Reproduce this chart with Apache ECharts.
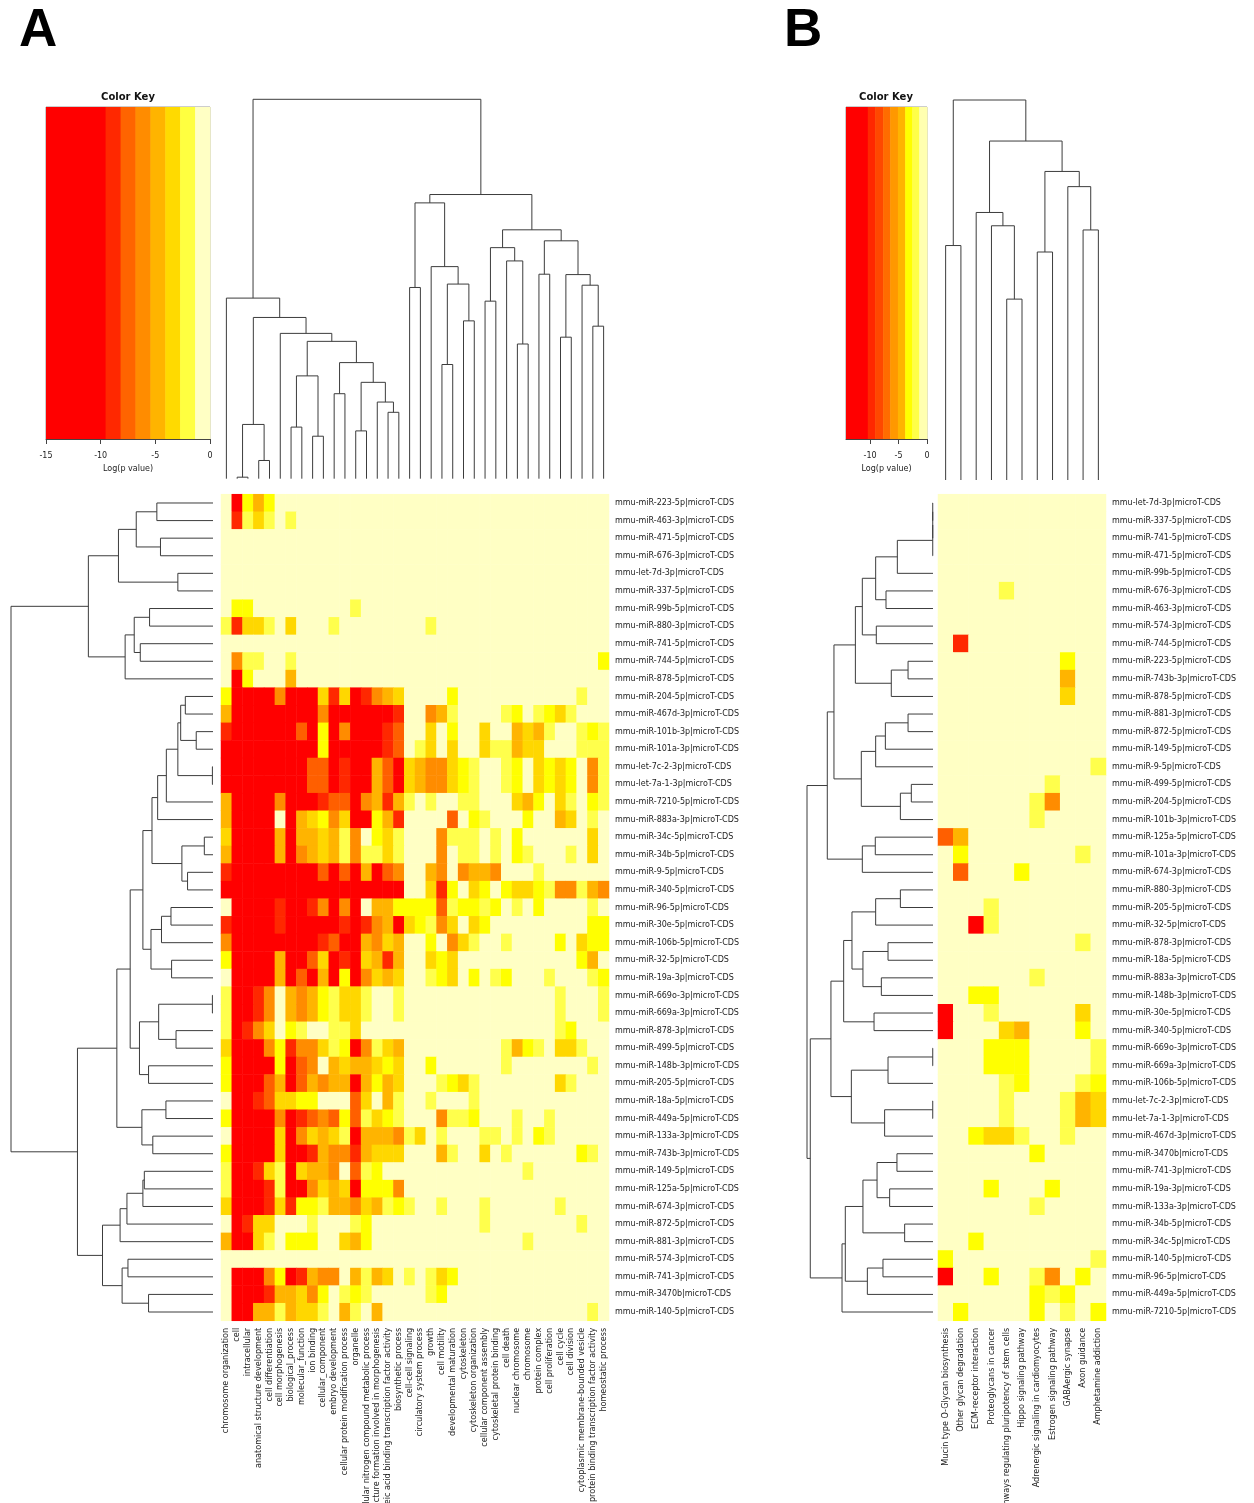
<!DOCTYPE html>
<html>
<head>
<meta charset="utf-8">
<script src="https://cdn.jsdelivr.net/npm/echarts@6/dist/echarts.min.js"></script>
<style>
html,body{margin:0;padding:0;background:#fff;}
#chart{width:1254px;height:1503px;}
</style>
</head>
<body>
<div id="chart"></div>
<script>
// ---------- Panel A: GO term enrichment ----------
const goTerms = [
  'chromosome organization','cell','intracellular','anatomical structure development','cell differentiation',
  'cell morphogenesis','biological_process','molecular_function','ion binding','cellular_component',
  'embryo development','cellular protein modification process','organelle',
  'cellular nitrogen compound metabolic process','anatomical structure formation involved in morphogenesis',
  'nucleic acid binding transcription factor activity','biosynthetic process','cell-cell signaling',
  'circulatory system process','growth','cell motility','developmental maturation','cytoskeleton',
  'cytoskeleton organization','cellular component assembly','cytoskeletal protein binding','cell death',
  'nuclear chromosome','chromosome','protein complex','cell proliferation','cell cycle','cell division',
  'cytoplasmic membrane-bounded vesicle','protein binding transcription factor activity','homeostatic process'
];
const goMirnas = [
  'mmu-miR-223-5p|microT-CDS','mmu-miR-463-3p|microT-CDS','mmu-miR-471-5p|microT-CDS','mmu-miR-676-3p|microT-CDS',
  'mmu-let-7d-3p|microT-CDS','mmu-miR-337-5p|microT-CDS','mmu-miR-99b-5p|microT-CDS','mmu-miR-880-3p|microT-CDS',
  'mmu-miR-741-5p|microT-CDS','mmu-miR-744-5p|microT-CDS','mmu-miR-878-5p|microT-CDS','mmu-miR-204-5p|microT-CDS',
  'mmu-miR-467d-3p|microT-CDS','mmu-miR-101b-3p|microT-CDS','mmu-miR-101a-3p|microT-CDS','mmu-let-7c-2-3p|microT-CDS',
  'mmu-let-7a-1-3p|microT-CDS','mmu-miR-7210-5p|microT-CDS','mmu-miR-883a-3p|microT-CDS','mmu-miR-34c-5p|microT-CDS',
  'mmu-miR-34b-5p|microT-CDS','mmu-miR-9-5p|microT-CDS','mmu-miR-340-5p|microT-CDS','mmu-miR-96-5p|microT-CDS',
  'mmu-miR-30e-5p|microT-CDS','mmu-miR-106b-5p|microT-CDS','mmu-miR-32-5p|microT-CDS','mmu-miR-19a-3p|microT-CDS',
  'mmu-miR-669o-3p|microT-CDS','mmu-miR-669a-3p|microT-CDS','mmu-miR-878-3p|microT-CDS','mmu-miR-499-5p|microT-CDS',
  'mmu-miR-148b-3p|microT-CDS','mmu-miR-205-5p|microT-CDS','mmu-miR-18a-5p|microT-CDS','mmu-miR-449a-5p|microT-CDS',
  'mmu-miR-133a-3p|microT-CDS','mmu-miR-743b-3p|microT-CDS','mmu-miR-149-5p|microT-CDS','mmu-miR-125a-5p|microT-CDS',
  'mmu-miR-674-3p|microT-CDS','mmu-miR-872-5p|microT-CDS','mmu-miR-881-3p|microT-CDS','mmu-miR-574-3p|microT-CDS',
  'mmu-miR-741-3p|microT-CDS','mmu-miR-3470b|microT-CDS','mmu-miR-140-5p|microT-CDS'
];
// one row per miRNA, one level code per GO term (spaces only group columns by six)
const goLevels = [
  '.RYaY. ...... ...... ...... ...... ......',
  '.rygy. y..... ...... ...... ...... ......',
  '...... ...... ...... ...... ...... ......',
  '...... ...... ...... ...... ...... ......',
  '...... ...... ...... ...... ...... ......',
  '...... ...... ...... ...... ...... ......',
  '.YY... ...... y..... ...... ...... ......',
  'yrggy. g...y. ...... .y.... ...... ......',
  '...... ...... ...... ...... ...... ......',
  '.oyy.. y..... ...... ...... ...... .....Y',
  '.RY... a..... ...... ...... ...... ......',
  'YRRRRo RRRgrg Rroag. ...Y.. ...... ...y..',
  'aRRRRR RRRoRR RRRRr. .oay.. ..yY.y Ygy...',
  'rRRRRR RdRYRo RRRrd. .g.Y.. g..aga y..yYy',
  'RRRRRR RRRYRR RRRrd. yg.g.. gyyagg ...yyy',
  'RRRRRR RRddRr RRadRg aoogYy ..yY.g YgY.oy',
  'RRRRRR RRddRr RRadRg aoogYy ..yY.g YgY.oy',
  'aRRRRo RRRrdd Roaray .y..yy ...gaY .gy.Yy',
  'aRRRR. RagYog RRYar. ...d.Y y...Y. .ag.y.',
  'gRRRRa Raagay o.Ygy. ..oyyy .y.Y.. ....g.',
  'aRRRRa Roagay oyygy. ..o.yy .y.Yy. ..y.g.',
  'rRRRRR RRRdRd RaRdo. .ao.oa ao...y ......',
  'RRRRRR RRRRRR RRRRR. .grY.g Y.YggY yooyao',
  '.RRRRr RRroRo R.aaYY YYdyYY yY.y.Y ....y.',
  'rRRRRr RRRRRr RroaRg Yyog.g Y..... ....YY',
  'oRRRRR RRRrdR Raoga. .Y.ogy ..y... .Y.gYY',
  'YRRRRa RRdgRr Rgara. .gYg.. ...... ...Ya.',
  '.RRRRa RdRaRY Rogag. .yYg.Y .yY... y...yY',
  'yRRro. aoaYyg gy..y. ...... ...... .y...y',
  'yRRro. aoaYyg gy..y. ...... ...... .y...y',
  'yRrog. Yy..yy g..... ...... ...... .yY...',
  'gRRRoY roogyY Royga. ...... ..yaYy .ggy..',
  'YRRRRY Rdo.ag aagYg. .Y.... ..y... ....y.',
  'YRRRda Rdaoaa RaYag. ..yYgy ...... .gy...',
  '.RRrdg gYY... dg.ay. .y...y ...... ......',
  'YRRRRo RrdodY dygYy. ..oyyY ...y.. y.....',
  '.RRRRg Rogagy Raaaoy g.y... yy.y.Y y.....',
  'YRRRRg RRraoo raggg. ..ay.. g.y... ...Yy.',
  'yRRrgy Rgaao. dyY... ...... ....y. ......',
  'yRRRry RRogag RYYYo. ...... ...... ......',
  'gRRRrg rYYyaa ogayYy ..y... y..... .y....',
  '.Rrgg. ..y... yY.... ...... y..... ...y..',
  'aRRgy. YYY..g aY.... ...... ....y. ......',
  '...... ...... ...... ...... ...... ......',
  '.RRRoY Rraoo. ayag.y .ygY.. ...... ......',
  '.RRRra agoY.y Yy.... .yY... ...... ......',
  '.RRaay aggy.a y.a... ...... ...... ....y.'
];

// ---------- Panel B: KEGG pathway enrichment ----------
const keggPathways = [
  'Mucin type O-Glycan biosynthesis','Other glycan degradation','ECM-receptor interaction',
  'Proteoglycans in cancer','Signaling pathways regulating pluripotency of stem cells',
  'Hippo signaling pathway','Adrenergic signaling in cardiomyocytes','Estrogen signaling pathway',
  'GABAergic synapse','Axon guidance','Amphetamine addiction'
];
const keggMirnas = [
  'mmu-let-7d-3p|microT-CDS','mmu-miR-337-5p|microT-CDS','mmu-miR-741-5p|microT-CDS','mmu-miR-471-5p|microT-CDS',
  'mmu-miR-99b-5p|microT-CDS','mmu-miR-676-3p|microT-CDS','mmu-miR-463-3p|microT-CDS','mmu-miR-574-3p|microT-CDS',
  'mmu-miR-744-5p|microT-CDS','mmu-miR-223-5p|microT-CDS','mmu-miR-743b-3p|microT-CDS','mmu-miR-878-5p|microT-CDS',
  'mmu-miR-881-3p|microT-CDS','mmu-miR-872-5p|microT-CDS','mmu-miR-149-5p|microT-CDS','mmu-miR-9-5p|microT-CDS',
  'mmu-miR-499-5p|microT-CDS','mmu-miR-204-5p|microT-CDS','mmu-miR-101b-3p|microT-CDS','mmu-miR-125a-5p|microT-CDS',
  'mmu-miR-101a-3p|microT-CDS','mmu-miR-674-3p|microT-CDS','mmu-miR-880-3p|microT-CDS','mmu-miR-205-5p|microT-CDS',
  'mmu-miR-32-5p|microT-CDS','mmu-miR-878-3p|microT-CDS','mmu-miR-18a-5p|microT-CDS','mmu-miR-883a-3p|microT-CDS',
  'mmu-miR-148b-3p|microT-CDS','mmu-miR-30e-5p|microT-CDS','mmu-miR-340-5p|microT-CDS','mmu-miR-669o-3p|microT-CDS',
  'mmu-miR-669a-3p|microT-CDS','mmu-miR-106b-5p|microT-CDS','mmu-let-7c-2-3p|microT-CDS','mmu-let-7a-1-3p|microT-CDS',
  'mmu-miR-467d-3p|microT-CDS','mmu-miR-3470b|microT-CDS','mmu-miR-741-3p|microT-CDS','mmu-miR-19a-3p|microT-CDS',
  'mmu-miR-133a-3p|microT-CDS','mmu-miR-34b-5p|microT-CDS','mmu-miR-34c-5p|microT-CDS','mmu-miR-140-5p|microT-CDS',
  'mmu-miR-96-5p|microT-CDS','mmu-miR-449a-5p|microT-CDS','mmu-miR-7210-5p|microT-CDS'
];
const keggLevels = [
  '...........','...........','...........','...........','...........',
  '....y......','...........','...........','.r.........','........Y..',
  '........a..','........g..','...........','...........','...........',
  '..........y','.......y...','......yo...','......y....','da.........',
  '.Y.......y.','.d...Y.....','...........','...y.......','..Ry.......',
  '.........y.','...........','......y....','..YY.......','R..y.....g.',
  'R...ga...Y.','...YYY....y','...YYY....y','....yY...yY','....y...yag',
  '....y...yag','..Yggy..y..','......Y....','...........','...Y...Y...',
  '......y....','...........','..Y........','Y.........y','R..Y..yo.Y.',
  '......YyY..','.Y....Y.y.Y'
];

// level code -> log(p value)
const codeLogP = { '.': -0.5, 'y': -1.7, 'Y': -2.4, 'g': -3.4, 'a': -4.8, 'o': -6.1, 'd': -7.5, 'r': -8.9, 'R': -12 };

// colour bins of log(p value) used by both heatmaps
const binEdges  = [-9.55, -8.18, -6.82, -5.45, -4.09, -2.73, -2.0, -1.36];
const binColors = ['#FF0000','#FF2800','#FF5F00','#FF8C00','#FFB400','#FFD700','#FFFF00','#FFFF4C','#FFFFC4'];

// colour key bands
const keyABreaks = [-15, -9.55, -8.18, -6.82, -5.45, -4.09, -2.73, -1.36, 0];
const keyAColors = ['#FF0000','#FF2800','#FF6400','#FF8C00','#FFB400','#FFDA00','#FFFF40','#FFFFC4'];
const keyATicks  = [-15, -10, -5, 0];
const keyBBreaks = [-14.23, -10.4, -9.12, -7.71, -6.47, -5.11, -3.83, -2.59, -1.36, 0];
const keyBColors = ['#FF0000','#FF2800','#FF4800','#FF6C00','#FF9800','#FFB400','#FFFF00','#FFFF48','#FFFFB0'];
const keyBTicks  = [-10, -5, 0];

// dendrograms: [height, left, right]; numbers are leaf positions
const goColTree = [100,
  [47.6, 0, [42.5, [14.3, [0.4, 1, 2], [4.8, 3, 4]],
    [38.3, 5, [36.2, [27.1, [13.6, 6, 7], [11.2, 8, 9]],
      [30.6, [22.4, 10, 11], [25.4, [12.6, 12, 13], [20.2, 14, [17.5, 15, 16]]]]]]]],
  [74.9, [72.7, [50.4, 17, 18], [55.9, 19, [51.3, [30.1, 20, 21], [41.6, 22, 23]]]],
    [65.6, [60.9, [46.8, 24, 25], [57.4, 26, [35.5, 27, 28]]],
      [62.7, [53.9, 29, 30], [53.8, [37.3, 31, 32], [51.0, 33, [40.2, 34, 35]]]]]]
];
const goRowTree = [100,
  [61.7, [46.8, [38.0, [27.8, 0, 1], [26.0, 2, 3]], [17.4, 4, 5]],
    [43.5, [39.0, [31.4, 6, 7], [36.0, 8, 9]], 10]],
  [67.1,
    [47.6,
      [41.0,
        [34.7,
          [30.2, [27.4, [23.1, [17.4, [16.0, [13.7, 11, 12], [8.3, 13, 14]], [0.3, 15, 16]], 17], 18],
                 [15.4, [4.3, 19, 20], [12.6, 21, 22]]],
          [30.7, [25.5, [20.8, 23, 24], 25], [20.5, 26, 27]]],
        [36.4, [26.9, [0.3, 28, 29], [18.3, 30, 31]], [31.9, 32, 33]]],
      [35.2, [23.3, 34, 35], [29.8, 36, 37]]],
    [54.7, [46.0, [42.6, [34.7, [34.0, 38, 39], 40], 41], 42],
           [45.0, [42.1, 43, 44], [31.9, 45, 46]]]]
];
const keggColTree = [100, [61.7, 0, 1],
  [89.2, [70.4, 2, [66.9, 3, [47.6, 4, 5]]], [81.2, [60.0, 6, 7], [77.2, 8, [65.8, 9, 10]]]]];
const keggRowTree = [100,
  [83.9,
    [78.6,
      [61.6, [56.1, [45.5, [28.3, [0.2, [0.2, [0.2, 0, 1], 2], 3], 4], [37.3, 5, 6]], [45.0, 7, 8]],
             [33.1, [19.8, 9, 10], 11]],
      [56.9, [45.5, [37.8, [19.8, 12, 13], 14], 15], [25.9, [17.2, 16, 17], 18]]],
    [56.1, [45.8, 19, 20], 21]],
  [97.4,
    [81.0,
      [70.9, [64.3, [45.5, [25.9, 22, 23], 24], [55.6, [35.7, 25, 26], [41.0, 27, 28]]], [46.8, 29, 30]],
      [64.8, [35.7, [0.2, 31, 32], 33], [38.4, [0.2, 34, 35], 36]]],
    [72.2, [69.6, [55.6, [44.4, [28.6, 37, 38], [34.4, 39, 40]], [22.5, 41, 42]], [52.1, [39.7, 43, 44], 45]], 46]]
];

// ---------- helpers ----------
const FONT = 'DejaVu Sans';
const TEXT = '#222';

function decodeRows(rows) {
  return rows.map(r => r.replace(/ /g, '').split('').map(c => codeLogP[c]));
}
function heatData(matrix) {
  const out = [];
  matrix.forEach((row, r) => row.forEach((v, c) => out.push([c, r, v])));
  return out;
}
function treeSegments(tree) {
  const segs = [];
  (function walk(node) {
    if (typeof node === 'number') return { pos: node, h: 0 };
    const a = walk(node[1]), b = walk(node[2]);
    segs.push([a.pos, a.h, b.pos, b.h, node[0]]);
    return { pos: (a.pos + b.pos) / 2, h: node[0] };
  })(tree);
  return segs;
}
function dendroSeries(tree, idx, sideways) {
  return {
    type: 'custom', coordinateSystem: 'cartesian2d', xAxisIndex: idx, yAxisIndex: idx,
    silent: true, clip: false, animation: false,
    encode: sideways ? { x: [1, 3, 4], y: [0, 2] } : { x: [0, 2], y: [1, 3, 4] },
    data: treeSegments(tree),
    renderItem: (params, api) => {
      const at = (p, h) => api.coord(sideways ? [h, p] : [p, h]);
      const p0 = api.value(0), h0 = api.value(1), p1 = api.value(2), h1 = api.value(3), h = api.value(4);
      return {
        type: 'polyline',
        shape: { points: [at(p0, h0), at(p0, h), at(p1, h), at(p1, h1)] },
        style: { stroke: '#3c3c3c', lineWidth: 1, fill: null }
      };
    }
  };
}
function keySeries(breaks, colors, idx) {
  return {
    type: 'custom', coordinateSystem: 'cartesian2d', xAxisIndex: idx, yAxisIndex: idx,
    silent: true, animation: false, encode: { x: [0, 1] },
    data: colors.map((c, i) => [breaks[i], breaks[i + 1], i]),
    renderItem: (params, api) => {
      const a = api.coord([api.value(0), 1]), b = api.coord([api.value(1), 0]);
      return { type: 'rect', shape: { x: a[0], y: a[1], width: b[0] - a[0] + 0.5, height: b[1] - a[1] },
               style: { fill: colors[api.value(2)] } };
    }
  };
}
const hiddenAxis = (gridIndex, min, max, inverse) =>
  ({ gridIndex, type: 'value', min, max, inverse: !!inverse, show: false });
function catXAxis(gridIndex, data) {
  return { gridIndex, type: 'category', data, position: 'bottom',
    axisLine: { show: false }, axisTick: { show: false }, splitLine: { show: false },
    axisLabel: { rotate: 90, interval: 0, fontSize: 8.1, color: TEXT, fontFamily: FONT, margin: 7 } };
}
function catYAxis(gridIndex, data) {
  return { gridIndex, type: 'category', data, inverse: true, position: 'right',
    axisLine: { show: false }, axisTick: { show: false }, splitLine: { show: false },
    axisLabel: { interval: 0, fontSize: 8, color: TEXT, fontFamily: FONT, margin: 6 } };
}
function keyXAxis(gridIndex, min, ticks) {
  return { gridIndex, type: 'value', min, max: 0,
    axisLine: { show: true, onZero: false, lineStyle: { color: '#444', width: 1 } },
    axisTick: { show: true, customValues: ticks, length: 5, lineStyle: { color: '#444' } },
    axisLabel: { customValues: ticks, fontSize: 8, color: TEXT, fontFamily: FONT, margin: 13 },
    splitLine: { show: false },
    name: 'Log(p value)', nameLocation: 'middle', nameGap: 26,
    nameTextStyle: { fontSize: 8, color: TEXT, fontFamily: FONT } };
}
function box(left, top, width, height, extra) {
  return Object.assign({ left, top, width, height, containLabel: false, outerBoundsMode: 'none' }, extra || {});
}

const pieces = binColors.map((color, i) => {
  const p = { color };
  if (i > 0) p.gte = binEdges[i - 1];
  if (i < binEdges.length) p.lt = binEdges[i];
  return p;
});

const ROW_TOP = 494.2, ROW_H = 826.6;
const keyFrame = { show: true, borderColor: '#9a9a9a', borderWidth: 1 };

const option = {
  animation: false,
  backgroundColor: '#fff',
  grid: [
    box(221, ROW_TOP, 388, ROW_H),     // heatmap A
    box(938, ROW_TOP, 168, ROW_H),     // heatmap B
    box(221, 99.3, 388, 379.4),        // column tree A
    box(11, ROW_TOP, 202, ROW_H),      // row tree A
    box(938, 100, 168, 380),           // column tree B
    box(807, ROW_TOP, 126, ROW_H),     // row tree B
    box(46, 107, 164, 332, keyFrame),  // key A
    box(846, 107, 81, 332, keyFrame)   // key B
  ],
  xAxis: [
    catXAxis(0, goTerms),
    catXAxis(1, keggPathways),
    hiddenAxis(2, -0.5, goTerms.length - 0.5),
    hiddenAxis(3, 0, 100, true),
    hiddenAxis(4, -0.5, keggPathways.length - 0.5),
    hiddenAxis(5, 0, 100, true),
    keyXAxis(6, keyABreaks[0], keyATicks),
    keyXAxis(7, keyBBreaks[0], keyBTicks)
  ],
  yAxis: [
    catYAxis(0, goMirnas),
    catYAxis(1, keggMirnas),
    hiddenAxis(2, 0, 100),
    hiddenAxis(3, -0.5, goMirnas.length - 0.5, true),
    hiddenAxis(4, 0, 100),
    hiddenAxis(5, -0.5, keggMirnas.length - 0.5, true),
    hiddenAxis(6, 0, 1),
    hiddenAxis(7, 0, 1)
  ],
  visualMap: { type: 'piecewise', show: false, seriesIndex: [0, 1], dimension: 2, pieces },
  series: [
    { type: 'heatmap', xAxisIndex: 0, yAxisIndex: 0, data: heatData(decodeRows(goLevels)),
      silent: true, itemStyle: { borderWidth: 0 }, progressive: 0 },
    { type: 'heatmap', xAxisIndex: 1, yAxisIndex: 1, data: heatData(decodeRows(keggLevels)),
      silent: true, itemStyle: { borderWidth: 0 }, progressive: 0 },
    dendroSeries(goColTree, 2, false),
    dendroSeries(goRowTree, 3, true),
    dendroSeries(keggColTree, 4, false),
    dendroSeries(keggRowTree, 5, true),
    keySeries(keyABreaks, keyAColors, 6),
    keySeries(keyBBreaks, keyBColors, 7)
  ],
  graphic: [
    { type: 'text', x: 19, y: 5, style: { text: 'A', fill: '#000', fontSize: 53, fontWeight: 'bold',
      fontFamily: 'Liberation Sans', textAlign: 'left', textVerticalAlign: 'top' } },
    { type: 'text', x: 784, y: 5, style: { text: 'B', fill: '#000', fontSize: 53, fontWeight: 'bold',
      fontFamily: 'Liberation Sans', textAlign: 'left', textVerticalAlign: 'top' } },
    { type: 'text', x: 128, y: 97, style: { text: 'Color Key', fill: '#111', fontSize: 10, fontWeight: 'bold',
      fontFamily: FONT, textAlign: 'center', textVerticalAlign: 'middle' } },
    { type: 'text', x: 886, y: 97, style: { text: 'Color Key', fill: '#111', fontSize: 10, fontWeight: 'bold',
      fontFamily: FONT, textAlign: 'center', textVerticalAlign: 'middle' } }
  ]
};

const chart = echarts.init(document.getElementById('chart'), null, { renderer: 'canvas' });
chart.setOption(option);
</script>
</body>
</html>
